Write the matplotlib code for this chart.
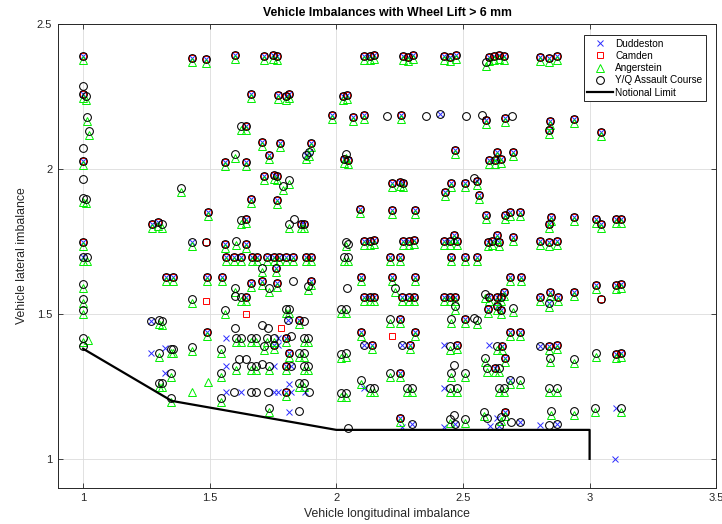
import matplotlib
matplotlib.use("Agg")
import matplotlib.pyplot as plt
from matplotlib.lines import Line2D
from matplotlib.markers import MarkerStyle
from matplotlib.transforms import Affine2D

plt.rcParams['font.family'] = ['Liberation Sans', 'DejaVu Sans']

# ---------------------------------------------------------------------------
# data; points grouped by which runs share them
# ---------------------------------------------------------------------------

# points present in all four runs
all_pts = [
    (1.0, 2.39), (1.429, 2.383), (1.484, 2.379), (1.599, 2.393), (1.714, 2.39), (1.75, 2.393), (1.766, 2.39),
    (2.111, 2.39), (2.131, 2.39), (2.147, 2.393), (2.262, 2.39), (2.282, 2.386), (2.302, 2.393),
    (2.425, 2.39), (2.448, 2.386), (2.472, 2.393), (2.603, 2.386), (2.623, 2.39), (2.643, 2.393), (2.663, 2.39),
    (2.806, 2.386), (2.841, 2.383), (2.873, 2.39),
    (1.0, 2.258), (1.663, 2.258), (1.77, 2.255), (1.802, 2.251), (1.813, 2.258), (2.028, 2.251), (2.044, 2.255),
    (1.984, 2.186), (2.067, 2.179), (2.111, 2.186), (2.254, 2.186), (2.591, 2.168), (2.667, 2.175),
    (2.845, 2.165), (2.94, 2.172), (2.841, 2.134), (3.044, 2.127), (1.643, 2.148),
    (1.706, 2.092), (1.778, 2.089), (1.901, 2.089), (1.56, 2.023), (1.643, 2.023), (1.734, 2.047),
    (2.468, 2.065), (2.635, 2.058), (2.698, 2.058), (1.0, 2.027), (2.032, 2.034), (2.048, 2.03),
    (2.603, 2.03), (2.627, 2.03), (2.651, 2.034),
    (1.714, 1.975), (1.754, 1.978), (1.766, 1.975), (2.218, 1.951), (2.25, 1.954), (2.262, 1.951),
    (2.429, 1.919), (2.452, 1.951), (2.508, 1.951), (2.556, 1.957), (2.563, 1.909),
    (1.663, 1.895), (1.766, 1.892),
    (2.095, 1.861), (2.218, 1.857), (2.31, 1.857), (2.591, 1.84), (2.667, 1.84), (2.687, 1.85), (2.726, 1.85),
    (2.849, 1.836), (2.841, 1.812), (2.94, 1.836), (3.024, 1.826), (3.103, 1.826), (3.123, 1.829), (3.044, 1.812),
    (1.492, 1.85), (1.643, 1.826), (1.274, 1.809), (1.294, 1.816), (1.861, 1.812), (1.873, 1.809),
    (1.0, 1.747), (1.56, 1.743), (1.643, 1.743), (2.111, 1.75), (2.131, 1.75), (2.147, 1.754),
    (2.262, 1.75), (2.286, 1.75), (2.306, 1.754), (2.425, 1.75), (2.448, 1.75), (2.464, 1.771), (2.476, 1.75),
    (2.599, 1.747), (2.615, 1.75), (2.635, 1.771), (2.643, 1.747), (2.698, 1.767),
    (2.806, 1.75), (2.841, 1.747), (2.873, 1.75),
    (1.563, 1.695), (1.595, 1.698), (1.623, 1.698), (1.667, 1.698), (1.687, 1.698), (1.726, 1.698),
    (1.754, 1.698), (1.774, 1.698), (1.802, 1.698), (1.829, 1.698), (1.881, 1.698), (1.901, 1.698),
    (2.21, 1.698), (2.25, 1.698), (2.452, 1.698), (2.508, 1.698), (2.556, 1.698),
    (1.762, 1.657), (1.329, 1.629), (1.357, 1.629), (1.488, 1.626), (1.548, 1.629), (1.663, 1.608),
    (1.706, 1.612), (1.766, 1.608), (1.901, 1.612), (2.099, 1.626), (2.218, 1.626), (2.31, 1.626),
    (2.687, 1.626), (2.73, 1.626),
    (1.643, 1.56), (2.111, 1.557), (2.131, 1.56), (2.147, 1.56), (2.258, 1.557), (2.286, 1.557), (2.306, 1.56),
    (2.425, 1.557), (2.448, 1.557), (2.468, 1.56), (2.603, 1.557), (2.635, 1.557), (2.599, 1.518),
    (2.635, 1.529), (2.663, 1.574), (2.651, 1.557), (2.806, 1.557), (2.845, 1.574), (2.877, 1.56),
    (2.94, 1.574), (3.024, 1.601), (3.103, 1.601), (3.123, 1.605), (2.651, 1.512),
    (1.853, 1.48), (2.25, 1.484), (2.508, 1.484),
    (2.099, 1.439), (2.31, 1.439), (1.488, 1.436), (2.726, 1.436), (2.687, 1.436),
    (1.802, 1.418),
    (1.754, 1.394), (2.139, 1.394), (2.29, 1.394), (2.476, 1.394), (2.655, 1.391), (2.841, 1.391),
    (2.873, 1.394), (1.813, 1.366), (2.667, 1.349), (3.103, 1.363), (3.123, 1.366),
    (1.802, 1.321), (2.25, 1.297), (2.627, 1.315),
    (1.802, 1.232), (2.25, 1.142), (2.667, 1.162),
]

# Duddeston + Angerstein + Y/Q
dao_pts = [
    (1.429, 1.747), (1.881, 2.047), (1.893, 2.058), (1.0, 1.698), (2.841, 1.539), (2.687, 1.273),
]

# Angerstein + Y/Q
ao_pts = [
    (2.591, 2.369), (1.012, 2.251), (1.016, 2.179), (1.024, 2.13), (1.623, 2.148), (1.599, 2.051),
    (2.04, 2.051), (1.385, 1.933), (1.813, 1.961), (1.79, 1.94), (1.0, 1.899), (1.012, 1.895),
    (1.623, 1.823), (1.31, 1.812), (1.813, 1.812), (1.603, 1.75), (2.04, 1.747),
    (1.016, 1.698), (2.032, 1.698), (2.048, 1.698), (1.706, 1.657), (1.599, 1.591), (1.734, 1.591),
    (1.889, 1.595), (2.23, 1.591), (1.0, 1.605), (1.0, 1.553), (1.429, 1.553), (1.623, 1.56),
    (2.468, 1.529), (2.587, 1.57), (2.698, 1.522), (1.0, 1.515), (1.56, 1.515), (1.802, 1.518),
    (1.813, 1.518), (2.02, 1.518), (2.04, 1.518), (1.298, 1.48), (1.31, 1.477), (2.21, 1.484),
    (2.452, 1.484), (2.556, 1.48),
    (1.0, 1.418), (1.603, 1.418), (1.623, 1.418), (1.663, 1.418), (1.683, 1.418), (1.726, 1.418),
    (1.754, 1.418), (1.873, 1.418), (1.889, 1.418),
    (1.298, 1.366), (1.349, 1.38), (1.357, 1.38), (1.429, 1.387), (1.544, 1.38), (1.714, 1.391),
    (2.448, 1.391), (2.635, 1.391), (1.853, 1.366), (1.873, 1.366), (2.02, 1.363), (2.04, 1.366),
    (2.587, 1.349), (2.845, 1.349), (2.94, 1.346), (3.024, 1.366),
    (1.349, 1.297), (1.544, 1.297), (1.603, 1.321), (1.663, 1.321), (1.683, 1.321), (1.734, 1.321),
    (1.873, 1.321), (1.889, 1.321), (2.099, 1.273), (2.131, 1.245), (2.147, 1.245), (2.21, 1.297),
    (2.278, 1.245), (2.298, 1.245), (2.448, 1.245), (2.476, 1.245), (2.452, 1.297), (2.508, 1.297),
    (2.595, 1.315), (2.643, 1.315), (2.726, 1.273), (2.643, 1.245), (2.663, 1.245), (2.841, 1.245),
    (2.873, 1.245), (1.298, 1.263), (1.31, 1.263), (1.853, 1.263), (1.873, 1.263), (2.02, 1.228),
    (2.04, 1.228), (1.349, 1.211), (1.544, 1.211), (1.734, 1.176), (2.448, 1.138), (2.508, 1.138),
    (2.583, 1.162), (2.651, 1.145), (2.849, 1.166), (2.94, 1.166), (3.02, 1.176), (3.123, 1.176),
]

# Duddeston + Y/Q
do_pts = [
    (2.409, 2.189), (1.27, 1.477), (1.81, 1.48), (2.111, 1.394), (2.258, 1.394), (2.806, 1.391),
    (1.821, 1.321), (2.298, 1.121), (2.468, 1.121), (2.643, 1.114), (2.726, 1.128), (2.873, 1.121),
]

# Camden + Y/Q
co_pts = [(1.484, 1.747), (3.044, 1.553)]

# single-run points
yq_only = [
    (1.0, 2.286), (1.0, 2.072), (1.0, 1.964), (2.202, 2.182), (2.353, 2.182), (2.512, 2.182),
    (2.575, 2.186), (2.694, 2.182), (2.544, 1.968), (1.833, 1.826), (2.048, 1.743), (2.044, 1.591),
    (1.829, 1.615), (1.599, 1.563), (1.599, 1.453), (1.706, 1.463), (1.73, 1.453), (1.873, 1.477),
    (2.544, 1.487), (1.821, 1.425), (1.0, 1.391), (1.615, 1.346), (1.643, 1.346), (1.706, 1.328),
    (2.464, 1.325), (1.595, 1.232), (1.663, 1.232), (1.683, 1.232), (1.73, 1.232), (1.893, 1.232),
    (1.853, 1.166), (2.048, 1.107), (2.464, 1.152), (2.595, 1.142), (2.69, 1.128), (2.841, 1.118),
]
duddeston_only = [
    (1.563, 1.418), (1.77, 1.418), (1.27, 1.366), (1.325, 1.384), (1.77, 1.394), (2.425, 1.394),
    (2.603, 1.394), (1.325, 1.297), (1.563, 1.321), (1.754, 1.321), (2.111, 1.245), (2.425, 1.245),
    (1.813, 1.259), (1.563, 1.232), (1.623, 1.232), (1.754, 1.232), (1.77, 1.232), (1.821, 1.232),
    (1.877, 1.232), (1.813, 1.162), (2.258, 1.111), (2.425, 1.111), (2.607, 1.114), (2.635, 1.142),
    (2.806, 1.118), (3.103, 1.176), (3.099, 1.0),
]
camden_only = [(1.484, 1.543), (1.643, 1.501), (1.782, 1.453), (2.218, 1.425)]
angerstein_only = [(1.02, 1.425), (1.492, 1.28), (1.429, 1.245)]

limit_x = [1.0, 1.35, 2.0, 3.0, 3.0]
limit_y = [1.38, 1.2, 1.1, 1.1, 1.0]

duddeston = all_pts + dao_pts + do_pts + duddeston_only
camden = all_pts + co_pts + camden_only
angerstein = all_pts + dao_pts + ao_pts + angerstein_only
yq = all_pts + dao_pts + ao_pts + do_pts + co_pts + yq_only

# ---------------------------------------------------------------------------
fig = plt.figure(figsize=(7.22, 5.24), dpi=100)
ax = fig.add_axes([0.080, 0.069, 0.912, 0.885])

dark = '#262626'
# triangles sit a little below the other markers in the reference
tri_down = MarkerStyle('^', transform=Affine2D().translate(0, -0.55))


def xs(p):
    return [v[0] for v in p]


def ys(p):
    return [v[1] for v in p]


ax.plot(xs(duddeston), ys(duddeston), ls='none', marker='x', ms=5, mew=0.7, color='#2b2bff')
ax.plot(xs(camden), ys(camden), ls='none', marker='s', ms=4.6, mew=0.7, mfc='none', mec='#ff0000')
ax.plot(xs(angerstein), ys(angerstein), ls='none', marker=tri_down, ms=5.6, mew=0.7, mfc='none', mec='#00ee00')
ax.plot(xs(yq), ys(yq), ls='none', marker='o', ms=5.6, mew=0.75, mfc='none', mec='black')
ax.plot(limit_x, limit_y, color='black', lw=1.6)

ax.set_xlim(0.9, 3.5)
ax.set_ylim(0.9, 2.5)
ax.set_xticks([1, 1.5, 2, 2.5, 3, 3.5])
ax.set_xticklabels(['1', '1.5', '2', '2.5', '3', '3.5'])
ax.set_yticks([1, 1.5, 2, 2.5])
ax.set_yticklabels(['1', '1.5', '2', '2.5'])
ax.tick_params(direction='in', top=True, right=True, length=3.5, width=0.6,
               labelsize=8, colors=dark, pad=4)
ax.grid(True, color='#dcdcdc', lw=0.6)
ax.set_axisbelow(True)
for s in ax.spines.values():
    s.set_color(dark)
    s.set_linewidth(0.7)

ax.set_xlabel('Vehicle longitudinal imbalance', fontsize=8.8, color=dark, labelpad=3)
ax.set_ylabel('Vehicle lateral imbalance', fontsize=8.8, color=dark, labelpad=6)
ax.set_title('Vehicle Imbalances with Wheel Lift > 6 mm', fontsize=8.8, fontweight='bold', pad=6)

# legend uses centred proxy markers
handles = [
    Line2D([], [], ls='none', marker='x', ms=5, mew=0.7, color='#2b2bff'),
    Line2D([], [], ls='none', marker='s', ms=4.6, mew=0.7, mfc='none', mec='#ff0000'),
    Line2D([], [], ls='none', marker='^', ms=5.6, mew=0.7, mfc='none', mec='#00ee00'),
    Line2D([], [], ls='none', marker='o', ms=5.6, mew=0.75, mfc='none', mec='black'),
    Line2D([], [], color='black', lw=1.6),
]
labels = ['Duddeston', 'Camden', 'Angerstein', 'Y/Q Assault Course', 'Notional Limit']
leg = ax.legend(handles, labels, loc='upper right', bbox_to_anchor=(0.984, 0.976),
                borderaxespad=0, fontsize=7.2, handlelength=2.6, handletextpad=0.2,
                labelspacing=0.22, borderpad=0.35, fancybox=False, framealpha=1)
leg.get_frame().set_edgecolor(dark)
leg.get_frame().set_linewidth(0.7)

fig.savefig('out.png', dpi=100)
